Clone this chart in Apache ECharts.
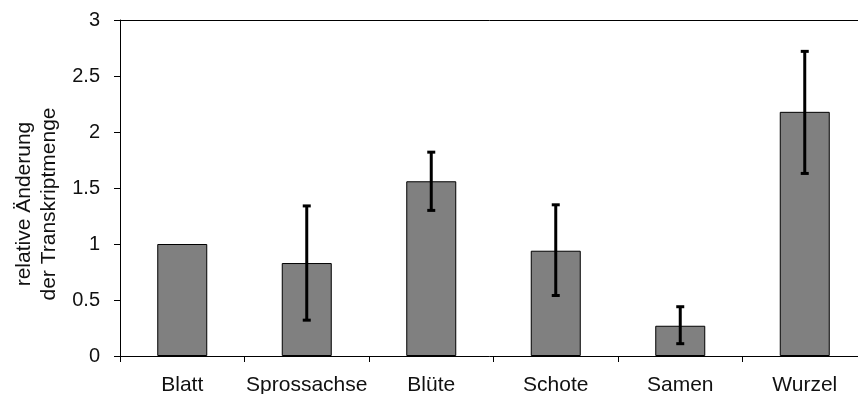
<!DOCTYPE html>
<html>
<head>
<meta charset="utf-8">
<script src="https://cdn.jsdelivr.net/npm/echarts@6/dist/echarts.min.js"></script>
<style>
  html, body { margin: 0; padding: 0; background: #fff; }
  #chart { width: 858px; height: 394px; }
</style>
</head>
<body>
<div id="chart"></div>
<script>
// Gewebe und relative Transkriptmenge
const categories = ['Blatt', 'Sprossachse', 'Blüte', 'Schote', 'Samen', 'Wurzel'];
const values = [1.0, 0.83, 1.56, 0.94, 0.27, 2.18];
const errLow = [null, 0.32, 1.30, 0.54, 0.11, 1.63];
const errHigh = [null, 1.34, 1.82, 1.35, 0.44, 2.72];

const chart = echarts.init(document.getElementById('chart'));

const errorData = categories
  .map((c, i) => [i, errLow[i], errHigh[i]])
  .filter(d => d[1] != null);

const option = {
  animation: false,
  grid: { left: 120, right: -9, top: 20, bottom: 38, outerBoundsMode: 'none', containLabel: false },
  textStyle: { fontFamily: 'Liberation Sans, Arial, sans-serif' },
  xAxis: [
    {
      type: 'category',
      data: categories,
      axisLine: { lineStyle: { color: '#000', width: 1 } },
      axisTick: { show: true, inside: false, length: 6, alignWithLabel: false, lineStyle: { color: '#000' } },
      axisLabel: { color: '#111', fontSize: 21, margin: 19, interval: 0 }
    },
    {
      type: 'category',
      position: 'top',
      data: categories,
      axisLine: { show: true, lineStyle: { color: '#000', width: 1 } },
      axisTick: { show: false },
      axisLabel: { show: false }
    }
  ],
  yAxis: {
    type: 'value',
    min: 0,
    max: 3,
    interval: 0.5,
    name: 'relative Änderung\nder Transkriptmenge',
    nameLocation: 'middle',
    nameGap: 58,
    nameTextStyle: { color: '#111', fontSize: 21, lineHeight: 25, padding: [0, 0, 0, -32] },
    axisLine: { show: true, lineStyle: { color: '#000', width: 1 } },
    axisTick: { show: true, length: 6, lineStyle: { color: '#000' } },
    axisLabel: { color: '#111', fontSize: 20, margin: 20 },
    splitLine: { show: false }
  },
  series: [
    {
      type: 'bar',
      data: values,
      barWidth: 50,
      itemStyle: { color: '#808080', borderColor: '#000', borderWidth: 1 }
    },
    {
      type: 'custom',
      data: errorData,
      z: 10,
      renderItem: function (params, api) {
        const x = api.value(0);
        const lo = api.coord([x, api.value(1)]);
        const hi = api.coord([x, api.value(2)]);
        const cap = 4;
        const style = { stroke: '#000', lineWidth: 3 };
        return {
          type: 'group',
          children: [
            { type: 'line', shape: { x1: hi[0], y1: hi[1], x2: lo[0], y2: lo[1] }, style: style },
            { type: 'line', shape: { x1: hi[0] - cap, y1: hi[1], x2: hi[0] + cap, y2: hi[1] }, style: style },
            { type: 'line', shape: { x1: lo[0] - cap, y1: lo[1], x2: lo[0] + cap, y2: lo[1] }, style: style }
          ]
        };
      }
    }
  ]
};

chart.setOption(option);
</script>
</body>
</html>
